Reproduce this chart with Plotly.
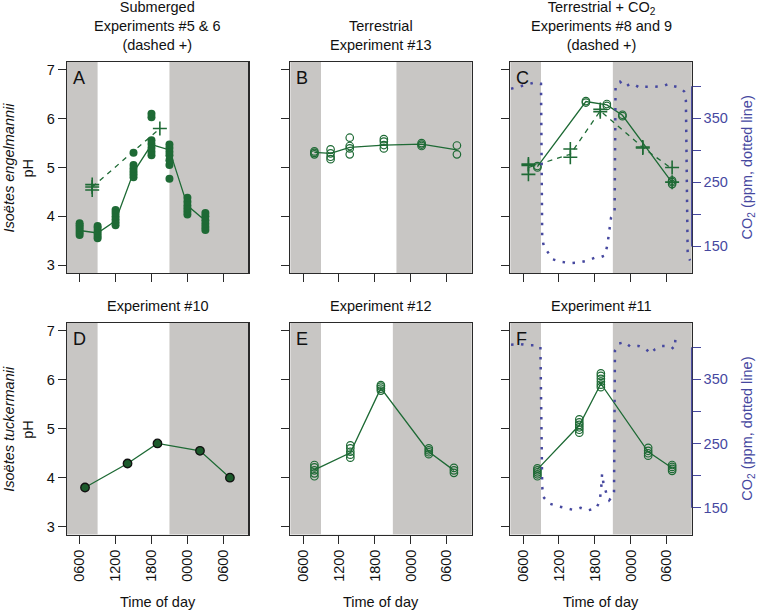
import plotly.graph_objects as go

W, H = 760, 611
GREEN = "#1e6a35"
GRAY = "#c8c6c4"
BLUE = "#46489f"
AX = "#2a2a2a"
FONT = "Liberation Sans, Arial, Helvetica, sans-serif"
FS = 14.5

# ---------------- data ----------------
tick_hours = [6, 12, 18, 24, 30]
tick_labels = ["0600", "1200", "1800", "0000", "0600"]
ph_ticks = [3, 4, 5, 6, 7]
co2_major_ticks = [150, 250, 350]
co2_minor_ticks = [200, 300, 400]

panel_letters = ["A", "B", "C", "D", "E", "F"]
panel_titles = [
    "Submerged<br>Experiments #5 & 6<br>(dashed +)",
    "Terrestrial<br>Experiment #13",
    "Terrestrial + CO<sub>2</sub><br>Experiments #8 and 9<br>(dashed +)",
    "Experiment #10",
    "Experiment #12",
    "Experiment #11",
]
row_species = ["Isoëtes engelmannii", "Isoëtes tuckermanii"]

# light period (white) per panel, hours
day_start = [9, 9, 9, 9, 9, 9]
day_end = [21, 21.6, 21, 21, 21, 21]

# Panel A – Experiment #5 (solid, filled dots) and #6 (dashed, +)
a_solid_t = [6, 9, 12, 15, 18, 21, 24, 27]
a_solid_vals = [
    [3.62, 3.67, 3.72, 3.77, 3.82, 3.86],
    [3.55, 3.60, 3.65, 3.70, 3.76, 3.80],
    [3.82, 3.88, 3.94, 4.00, 4.07, 4.13],
    [4.80, 4.86, 4.92, 4.98, 5.05, 5.30],
    [5.25, 5.32, 5.40, 5.48, 5.56, 6.03, 6.10],
    [5.05, 5.15, 5.25, 5.32, 5.40, 5.47, 4.77],
    [4.04, 4.10, 4.16, 4.22, 4.30, 4.38],
    [3.72, 3.78, 3.85, 3.92, 4.00, 4.07],
]
a_solid_line = [3.71, 3.66, 3.91, 4.90, 5.47, 5.36, 4.22, 3.91]
a_dash_t = [8.1, 19.4]
a_dash_vals = [[4.54, 4.60, 4.65], [5.80]]
a_dash_line = [4.60, 5.80]

# Panel B – Experiment #13
b_t = [7.9, 10.6, 13.8, 19.5, 25.8, 31.7]
b_vals = [
    [5.27, 5.30, 5.33],
    [5.17, 5.22, 5.29, 5.37],
    [5.27, 5.39, 5.44, 5.61],
    [5.39, 5.46, 5.53, 5.58],
    [5.44, 5.47, 5.50],
    [5.27, 5.45],
]
b_line = [5.31, 5.29, 5.41, 5.46, 5.48, 5.36]

# Panel C – Experiment #8 (solid, circles) and #9 (dashed, +)
c_solid_t = [8.4, 16.5, 20.0, 22.6, 30.9]
c_solid_vals = [[5.00, 5.03], [6.33, 6.36], [6.26, 6.30], [6.05, 6.08], [4.66, 4.70, 4.73]]
c_solid_line = [5.02, 6.35, 6.28, 6.07, 4.69]
c_dash_t = [6.9, 13.9, 18.9, 26.0, 30.9]
c_dash_vals = [[4.86, 5.04, 5.07], [5.21, 5.38], [6.14, 6.19], [5.40, 5.42], [4.70, 5.00]]
c_dash_line = [5.00, 5.27, 6.16, 5.41, 4.97]
c_co2_t = [4.0, 5.5, 7.0, 8.0, 9.0, 9.2, 9.5, 10.0, 10.9, 12.3, 13.9, 15.4, 16.8,
           17.9, 18.9, 19.7, 20.1, 20.4, 20.7, 21.1, 21.3, 21.45, 21.8, 22.2, 23.1,
           23.9, 24.7, 25.6, 26.4, 27.5, 28.6, 29.4, 30.4, 31.2, 32.1, 32.9, 33.2,
           33.5, 33.9]
c_co2 = [396, 400, 403, 406, 404, 165, 148, 143, 130, 126, 124, 125, 128,
         132, 133, 136, 153, 175, 195, 201, 205, 399, 404, 407, 399,
         404, 402, 397, 399, 399, 399, 400, 404, 400, 398, 392, 378,
         135, 128]

# Panel D – Experiment #10
d_t = [6.9, 14.0, 19.0, 26.1, 31.1]
d_vals = [3.80, 4.29, 4.70, 4.55, 4.00]

# Panel E – Experiment #12
e_t = [7.9, 13.9, 19.0, 27.0, 31.2]
e_vals = [
    [4.03, 4.09, 4.15, 4.21, 4.26],
    [4.41, 4.47, 4.53, 4.60, 4.66],
    [5.78, 5.82, 5.86, 5.89],
    [4.48, 4.52, 4.56, 4.60],
    [4.10, 4.15, 4.20],
]
e_line = [4.16, 4.51, 5.83, 4.53, 4.15]

# Panel F – Experiment #11
f_t = [8.4, 15.4, 19.0, 26.9, 30.9]
f_vals = [
    [4.03, 4.07, 4.11, 4.15, 4.19],
    [4.92, 4.98, 5.03, 5.08, 5.13, 5.19],
    [5.85, 5.90, 5.96, 6.02, 6.08, 6.13],
    [4.45, 4.50, 4.55, 4.61],
    [4.14, 4.18, 4.22, 4.26],
]
f_line = [4.17, 5.07, 5.92, 4.53, 4.20]
f_co2_t = [4.0, 5.5, 6.9, 8.0, 8.9, 9.1, 9.2, 9.4, 10.3, 11.6, 12.9, 14.3, 15.6,
           16.8, 18.2, 18.8, 19.05, 19.2, 19.4, 19.9, 20.4, 21.0, 21.2, 21.35,
           22.05, 23.05, 23.9, 25.3, 26.6, 27.2, 28.05, 29.2, 30.6, 31.2, 31.4, 31.5]
f_co2 = [404, 405, 403, 403, 401, 198, 183, 167, 157, 153, 150, 147, 150,
         146, 149, 160, 180, 203, 190, 173, 162, 168, 175, 395,
         406, 408, 401, 402, 397, 390, 397, 402, 402, 397, 406, 421]

# ---------------- layout geometry (pixels) ----------------
col_px = [(67, 248.3), (290.4, 471.7), (510.4, 691.7)]
row_px = [(62, 273), (323, 534.5)]
x_range = [3.89, 34.17]
ph_range = [2.84, 7.16]
co2_range = [108.5, 437.8]


def px_x(p):
    return p / W


def px_y(p):
    return 1 - p / H


def flat(ts, vals):
    xs, ys = [], []
    for t, v in zip(ts, vals):
        for val in v:
            xs.append(t)
            ys.append(val)
    return xs, ys


fig = go.Figure()


def add(i, **kw):
    sfx = "" if i == 0 else str(i + 1)
    fig.add_trace(go.Scatter(xaxis="x" + sfx, yaxis="y" + sfx, showlegend=False,
                             hoverinfo="skip", **kw))


open_c = dict(symbol="circle-open", size=7.5, color=GREEN, line=dict(width=1.2, color=GREEN))
plus_m = dict(symbol="cross-thin", size=10, color=GREEN, line=dict(width=1.6, color=GREEN))
solid_l = dict(color=GREEN, width=1.3)
dash_l = dict(color=GREEN, width=1.3, dash="5px,5px")
co2_l = dict(color=BLUE, width=2.5, dash="2.5px,7.5px")

# A
add(0, x=a_solid_t, y=a_solid_line, mode="lines", line=solid_l)
add(0, x=a_dash_t, y=a_dash_line, mode="lines", line=dash_l)
xs, ys = flat(a_solid_t, a_solid_vals)
add(0, x=xs, y=ys, mode="markers", marker=dict(symbol="circle", size=8, color=GREEN))
xs, ys = flat(a_dash_t, a_dash_vals)
add(0, x=xs, y=ys, mode="markers", marker=plus_m)
# B
add(1, x=b_t, y=b_line, mode="lines", line=solid_l)
xs, ys = flat(b_t, b_vals)
add(1, x=xs, y=ys, mode="markers", marker=open_c)
# C
fig.add_trace(go.Scatter(x=c_co2_t, y=c_co2, xaxis="x3", yaxis="y7", mode="lines",
                         line=co2_l, showlegend=False, hoverinfo="skip"))
add(2, x=c_solid_t, y=c_solid_line, mode="lines", line=solid_l)
add(2, x=c_dash_t, y=c_dash_line, mode="lines", line=dash_l)
xs, ys = flat(c_solid_t, c_solid_vals)
add(2, x=xs, y=ys, mode="markers", marker=open_c)
xs, ys = flat(c_dash_t, c_dash_vals)
add(2, x=xs, y=ys, mode="markers", marker=plus_m)
# D
add(3, x=d_t, y=d_vals, mode="lines+markers", line=solid_l,
    marker=dict(symbol="circle", size=8.5, color="#1b5a2b", line=dict(width=1.3, color="#111")))
# E
add(4, x=e_t, y=e_line, mode="lines", line=solid_l)
xs, ys = flat(e_t, e_vals)
add(4, x=xs, y=ys, mode="markers", marker=open_c)
# F
fig.add_trace(go.Scatter(x=f_co2_t, y=f_co2, xaxis="x6", yaxis="y8", mode="lines",
                         line=co2_l, showlegend=False, hoverinfo="skip"))
add(5, x=f_t, y=f_line, mode="lines", line=solid_l)
xs, ys = flat(f_t, f_vals)
add(5, x=xs, y=ys, mode="markers", marker=open_c)

layout = dict(
    width=W, height=H, margin=dict(l=0, r=0, t=0, b=0),
    paper_bgcolor="white", plot_bgcolor=GRAY,
    font=dict(family=FONT, size=FS, color="#111"),
    showlegend=False,
)
shapes = []
annotations = []
for i in range(6):
    r, c = divmod(i, 3)
    sfx = "" if i == 0 else str(i + 1)
    x0, x1 = col_px[c]
    yt, yb = row_px[r]
    layout["xaxis" + sfx] = dict(
        domain=[px_x(x0), px_x(x1)], range=x_range, anchor="y" + sfx,
        tickvals=tick_hours, ticktext=tick_labels, showticklabels=(r == 1),
        tickangle=-90, ticks="outside", ticklen=8, tickwidth=1, tickcolor=AX,
        showline=True, mirror=True, linecolor=AX, linewidth=1.3,
        showgrid=False, zeroline=False, tickfont=dict(size=FS, color="#111"),
    )
    layout["yaxis" + sfx] = dict(
        domain=[px_y(yb), px_y(yt)], range=ph_range, anchor="x" + sfx,
        tickvals=ph_ticks, showticklabels=(c == 0),
        ticks="outside", ticklen=8, tickwidth=1, tickcolor=AX,
        showline=True, mirror=True, linecolor=AX, linewidth=1.3,
        showgrid=False, zeroline=False, tickfont=dict(size=FS, color="#111"),
    )
    shapes.append(dict(type="rect", xref="x" + sfx, yref="y" + sfx + " domain",
                       x0=day_start[i], x1=day_end[i], y0=0, y1=1,
                       fillcolor="white", line=dict(width=0), layer="below"))
    annotations.append(dict(text=panel_titles[i], xref="paper", yref="paper",
                            x=px_x((x0 + x1) / 2), y=px_y(yt), yanchor="bottom",
                            xanchor="center", yshift=7, showarrow=False,
                            font=dict(size=FS, color="#111")))
    annotations.append(dict(text=panel_letters[i], xref="paper", yref="paper",
                            x=px_x(x0 + 4), y=px_y(yt + 4), xanchor="left", yanchor="top",
                            showarrow=False, font=dict(size=18, color="#111")))
    if r == 1:
        annotations.append(dict(text="Time of day", xref="paper", yref="paper",
                                x=px_x((x0 + x1) / 2), y=px_y(602), xanchor="center",
                                yanchor="middle", showarrow=False,
                                font=dict(size=FS, color="#111")))

for k, (ax_name, over, xa) in enumerate([("yaxis7", "y3", "x3"), ("yaxis8", "y6", "x6")]):
    layout[ax_name] = dict(
        overlaying=over, anchor=xa, side="right", range=co2_range,
        tickmode="array", tickvals=co2_major_ticks, ticks="outside", ticklen=8,
        tickwidth=1, tickcolor=BLUE, tickfont=dict(size=FS, color=BLUE),
        minor=dict(tickmode="array", tickvals=co2_minor_ticks, ticks="outside",
                   ticklen=8, tickwidth=1, tickcolor=BLUE),
        showline=False, showgrid=False, zeroline=False,
    )
    shapes.append(dict(type="line", xref=xa + " domain", yref=ax_name.replace("axis", ""),
                       x0=1, x1=1, y0=co2_major_ticks[0], y1=co2_minor_ticks[-1],
                       line=dict(color=BLUE, width=1.3), layer="above"))

for r in range(2):
    yt, yb = row_px[r]
    yc = px_y((yt + yb) / 2)
    common = dict(xref="paper", yref="paper", y=yc, textangle=-90, showarrow=False,
                  xanchor="center", yanchor="middle")
    annotations.append(dict(text="pH", x=px_x(28), font=dict(size=FS, color="#111"), **common))
    annotations.append(dict(text="<i>" + row_species[r] + "</i>", x=px_x(9),
                            font=dict(size=FS, color="#111"), **common))
    annotations.append(dict(text="CO<sub>2</sub> (ppm, dotted line)", x=px_x(748),
                            font=dict(size=FS, color=BLUE), **common))

layout["shapes"] = shapes
layout["annotations"] = annotations
fig.update_layout(**layout)
fig.write_html("out.html", config={"displayModeBar": False, "staticPlot": True},
               post_script="document.body.style.margin='0';document.body.style.padding='0';")
